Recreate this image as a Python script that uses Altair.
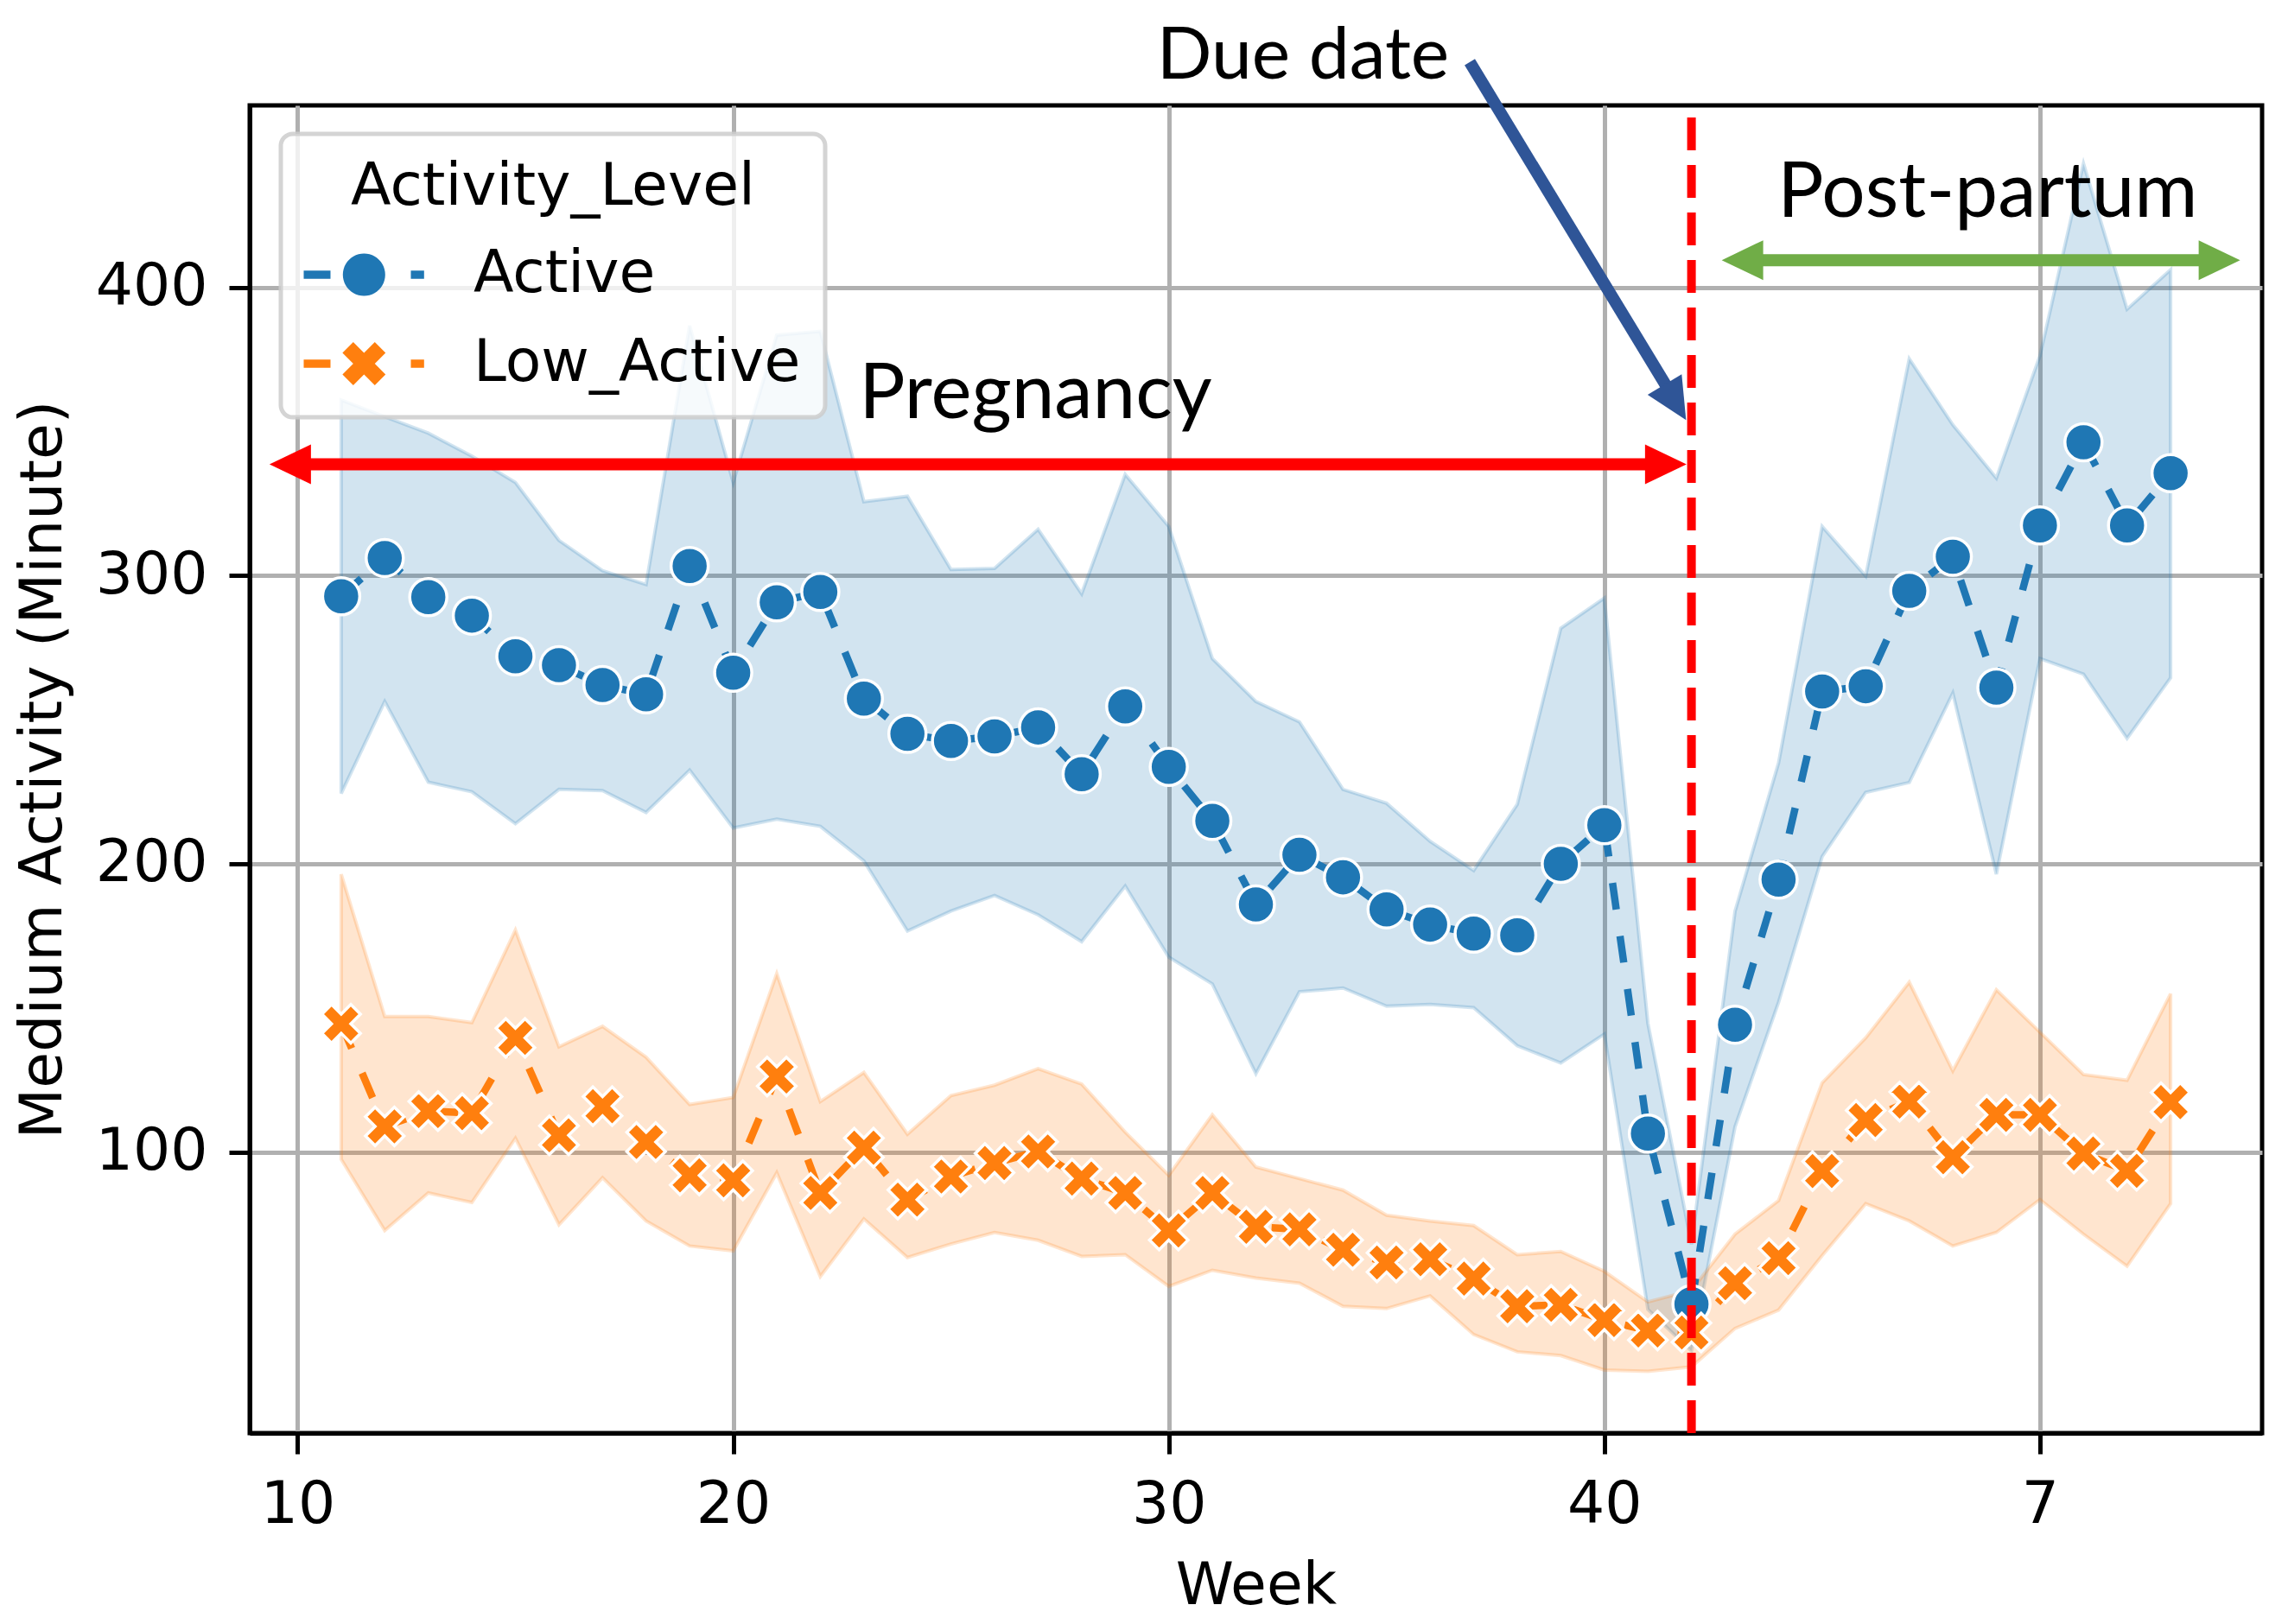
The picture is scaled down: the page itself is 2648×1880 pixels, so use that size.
import math
import altair as alt
import pandas as pd

# ---------------- data ----------------
weeks = list(range(11, 54))
active_mean = [292.8, 306.1, 292.5, 286.1, 272.0, 268.9, 262.0, 258.8, 303.3, 266.3,
               290.7, 294.3, 257.3, 245.1, 242.6, 244.2, 247.3, 231.1, 254.6, 233.6,
               214.9, 185.9, 203.1, 195.3, 184.2, 178.9, 175.8, 175.2, 200.0, 213.4,
               106.4, 47.2, 144.2, 194.5, 259.8, 261.6, 294.7, 306.5, 261.1, 317.4,
               346.2, 317.4, 335.5]
active_upper = [360.9, 355.1, 349.4, 341.4, 332.3, 312.2, 301.7, 296.9, 386.7, 332.3,
                383.4, 384.7, 325.6, 327.5, 302.1, 302.5, 316.0, 293.7, 335.1, 317.0,
                271.2, 256.3, 249.2, 225.8, 221.0, 207.8, 197.7, 220.6, 281.7, 292.2,
                144.6, 68.0, 183.5, 235.0, 317.0, 299.8, 375.2, 352.3, 333.8, 376.2,
                442.9, 392.4, 406.1]
active_lower = [224.4, 256.3, 228.3, 225.0, 213.9, 225.8, 225.4, 217.8, 232.5, 212.4,
                215.5, 213.0, 201.0, 176.7, 183.6, 189.0, 182.3, 173.0, 192.3, 167.6,
                158.3, 127.2, 155.6, 156.9, 150.6, 151.2, 150.1, 136.9, 130.9, 140.9,
                45.4, 31.0, 108.8, 152.0, 202.5, 224.8, 228.2, 259.2, 196.4, 271.2,
                265.8, 243.5, 264.5]
low_mean = [144.5, 108.9, 114.2, 113.5, 139.6, 105.8, 115.9, 103.5, 91.9, 90.2,
            126.2, 85.8, 101.5, 83.5, 91.5, 96.2, 100.2, 90.8, 85.8, 72.8,
            85.8, 74.1, 73.2, 66.1, 61.7, 62.8, 56.1, 46.5, 47.0, 41.7,
            38.1, 37.4, 54.5, 63.2, 93.4, 111.1, 117.5, 98.2, 112.9, 112.9,
            99.5, 93.5, 117.3]
low_upper = [196.4, 147.0, 147.0, 144.9, 177.0, 136.5, 143.6, 132.9, 116.5, 118.9,
             161.9, 117.5, 127.6, 106.2, 119.6, 123.2, 128.9, 123.6, 106.9, 91.9,
             112.9, 94.8, 90.8, 86.8, 78.1, 76.1, 74.5, 64.4, 65.5, 58.6,
             48.0, 52.0, 71.5, 83.2, 124.0, 139.6, 158.9, 128.2, 156.3, 141.6,
             126.9, 124.9, 154.9]
low_lower = [97.5, 72.8, 85.8, 82.5, 104.8, 74.8, 91.1, 76.1, 67.4, 65.7,
             92.8, 56.8, 76.8, 63.4, 68.1, 72.1, 69.4, 63.8, 64.4, 53.4,
             59.0, 56.3, 54.5, 46.5, 45.7, 50.1, 36.7, 30.7, 29.4, 24.4,
             23.9, 25.5, 38.8, 45.2, 64.1, 82.1, 76.1, 67.4, 72.1, 83.5,
             71.5, 60.4, 82.1]

levels = ["Active", "Low_Active"]
level_colors = ["#1f77b4", "#ff7f0e"]

x_tick_values = [10, 20, 30, 40, 50]
x_tick_labels = ["10", "20", "30", "40", "7"]
y_tick_values = [100, 200, 300, 400]
x_domain = [8.9, 55.1]
y_domain = [2.5, 463.1]

due_week = 42

# annotations (data coordinates)
span_x = [9.83, 43.17]
span_x2 = [41.41, 54.12]
span_y = [338.6, 409.4]
span_colors = ["#ff0000", "#70ad47"]

head_x = [9.83, 41.41, 43.17, 54.12, 41.63]
head_y = [338.6, 338.6, 409.4, 409.4, 360.1]
head_angle = [180, 0, 180, 0, 58.9]
head_colors = ["#ff0000", "#ff0000", "#70ad47", "#70ad47", "#2f5597"]

due_arrow_x, due_arrow_y = [36.91], [478.1]
due_arrow_x2, due_arrow_y2 = [41.42], [365.8]

note_x = [26.94, 48.8, 33.08]
note_y = [354.5, 424.4, 472.5]
note_text = ["Pregnancy", "Post-partum", "Due date"]
note_size = [89, 89, 84]

# ---------------- tables ----------------
df = pd.concat([
    pd.DataFrame({"Week": weeks, "Activity_Level": levels[0], "Value": active_mean,
                  "Lower": active_lower, "Upper": active_upper}),
    pd.DataFrame({"Week": weeks, "Activity_Level": levels[1], "Value": low_mean,
                  "Lower": low_lower, "Upper": low_upper}),
], ignore_index=True)

spans = pd.DataFrame({"Week": span_x, "Week2": span_x2, "Value": span_y, "c": span_colors})
heads = pd.DataFrame({"Week": head_x, "Value": head_y, "angle": head_angle, "c": head_colors})
due_arrow = pd.DataFrame({"Week": due_arrow_x, "Value": due_arrow_y,
                          "Week2": due_arrow_x2, "Value2": due_arrow_y2})
notes = pd.DataFrame({"Week": note_x, "Value": note_y, "text": note_text, "fs": note_size})
due_line = pd.DataFrame({"Week": [due_week], "Value": [y_domain[0]], "Value2": [y_domain[1]]})

# ---------------- symbol paths ----------------
def fmt(v):
    return f"{v:.4f}"

def poly(points):
    return "M " + " L ".join(f"{fmt(x)} {fmt(y)}" for x, y in points) + " Z"

def circle_pts(cx, cy, r, n=48):
    return [(cx + r * math.cos(2 * math.pi * i / n), cy + r * math.sin(2 * math.pi * i / n)) for i in range(n)]

def x_pts(cx, cy, s):
    plus = [(-1/3, -1), (1/3, -1), (1/3, -1/3), (1, -1/3), (1, 1/3), (1/3, 1/3),
            (1/3, 1), (-1/3, 1), (-1/3, 1/3), (-1, 1/3), (-1, -1/3), (-1/3, -1/3)]
    c = math.sqrt(0.5)
    return [(cx + s * (x - y) * c, cy + s * (x + y) * c) for x, y in plus]

def rect(x0, x1, h):
    return poly([(x0, -h), (x1, -h), (x1, h), (x0, h)])

X_MARK = poly(x_pts(0, 0, 1.1))
ARROW_HEAD = "M 1 0 L -1 -0.96 L -1 0.96 Z"

cx = 1.849
dash_l = rect(-1.0, 0.265, 0.19)
dash_r = rect(4.061, 4.686, 0.19)
LEG_ACTIVE = dash_l + " " + poly(circle_pts(cx, 0, 1.0)) + " " + dash_r
LEG_LOW = dash_l + " " + poly(x_pts(cx, 0, 1.08)) + " " + dash_r

# ---------------- encodings ----------------
label_expr = " : ".join(f"datum.value == {v} ? '{l}'" for v, l in zip(x_tick_values, x_tick_labels)) + " : datum.label"
xscale = alt.Scale(domain=x_domain, nice=False, zero=False)
yscale = alt.Scale(domain=y_domain, nice=False, zero=False)
xaxis = alt.Axis(values=x_tick_values, labelExpr=label_expr, title="Week")
yaxis = alt.Axis(values=y_tick_values, title="Medium Activity (Minute)")

def X(f="Week"):
    return alt.X(f"{f}:Q", scale=xscale, axis=xaxis)

def Y(f="Value"):
    return alt.Y(f"{f}:Q", scale=yscale, axis=yaxis)

base = alt.Chart(df)

def series(level, color, shape):
    sub = base.transform_filter(alt.datum.Activity_Level == level)
    band = sub.mark_area(color=color, fillOpacity=0.2, stroke=color, strokeOpacity=0.2,
                         strokeWidth=4, clip=True, orient="vertical").encode(
        x=X(), y=Y("Upper"), y2=alt.Y2("Lower:Q"))
    line = sub.mark_line(color=color, strokeWidth=8.5, strokeDash=[31, 31], clip=True).encode(
        x=X(), y=Y("Value"), order="Week:Q")
    pts = sub.mark_point(shape=shape, filled=True, fill=color, stroke="white", strokeWidth=3.5,
                         size=1850, opacity=1, clip=True).encode(x=X(), y=Y("Value"))
    return band, line, pts

a_band, a_line, a_pts = series(levels[0], level_colors[0], "circle")
l_band, l_line, l_pts = series(levels[1], level_colors[1], X_MARK)

legend = alt.Legend(
    orient="none", legendX=36, legendY=33, padding=28, title="Activity_Level",
    titleAnchor="middle", titlePadding=33, rowPadding=35, labelOffset=138,
    symbolOffset=-11,
    symbolSize=2401, symbolStrokeWidth=0, labelLimit=2000, titleLimit=2000,
    fillColor="rgba(255,255,255,0.8)", strokeColor="rgba(204,204,204,0.85)",
    cornerRadius=14,
)
legend_layer = base.transform_filter("datum.Week < 0").mark_point(
    filled=True, opacity=1, size=2401, strokeWidth=0).encode(
    x=X(), y=Y("Value"),
    color=alt.Color("Activity_Level:N", scale=alt.Scale(domain=levels, range=level_colors), legend=legend),
    shape=alt.Shape("Activity_Level:N", scale=alt.Scale(domain=levels, range=[LEG_ACTIVE, LEG_LOW]), legend=legend),
)

due_rule = alt.Chart(due_line).mark_rule(color="#ff0000", strokeWidth=10, strokeDash=[38, 17]).encode(
    x=X(), y=Y("Value"), y2=alt.Y2("Value2:Q"))

span_rules = alt.Chart(spans).mark_rule(strokeWidth=14, strokeCap="butt", clip=False).encode(
    x=X(), x2=alt.X2("Week2:Q"), y=Y("Value"), color=alt.Color("c:N", scale=None))

due_arrow_rule = alt.Chart(due_arrow).mark_rule(strokeWidth=14, color="#2f5597", strokeCap="butt", clip=False).encode(
    x=X(), y=Y("Value"), x2=alt.X2("Week2:Q"), y2=alt.Y2("Value2:Q"))

head_pts = alt.Chart(heads).mark_point(shape=ARROW_HEAD, filled=True, size=2304, opacity=1,
                                       strokeWidth=0, clip=False).encode(
    x=X(), y=Y("Value"), angle=alt.Angle("angle:Q", scale=None),
    color=alt.Color("c:N", scale=None))

note_marks = alt.Chart(notes).mark_text(font="Lato", color="black", align="center",
                                        baseline="alphabetic", clip=False).encode(
    x=X(), y=Y("Value"), text="text:N", size=alt.Size("fs:Q", scale=None))

chart = alt.layer(
    a_band, l_band, a_line, a_pts, l_line, l_pts, legend_layer,
    due_rule, span_rules, due_arrow_rule, head_pts, note_marks,
).properties(
    width=2329, height=1537,
    padding={"left": 281, "top": 114, "right": 22, "bottom": 213},
    autosize=alt.AutoSizeParams(type="none"),
    background="white",
).configure_view(
    stroke="black", strokeWidth=5,
).configure_axis(
    labelFont="DejaVu Sans", titleFont="DejaVu Sans", labelFontSize=68, titleFontSize=68,
    titleFontWeight="normal", labelColor="black", titleColor="black",
    domainColor="black", domainWidth=5, tickColor="black", tickWidth=5, tickSize=24,
    gridColor="#b0b0b0", gridWidth=5, labelPadding=25, titlePadding=26,
).configure_legend(
    titleFont="DejaVu Sans", labelFont="DejaVu Sans", titleFontSize=68, labelFontSize=68,
    titleFontWeight="normal", titleColor="black", labelColor="black", strokeWidth=5,
)

chart.save("out.html", embed_options={"renderer": "svg", "actions": False})
